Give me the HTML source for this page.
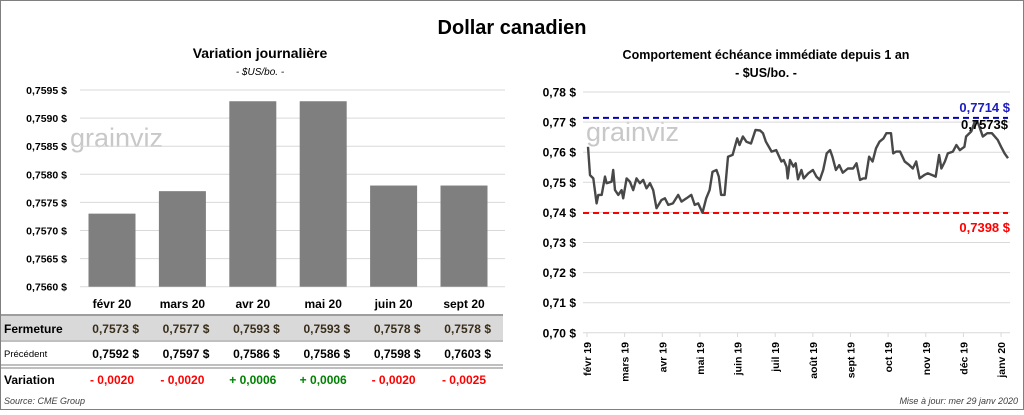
<!DOCTYPE html>
<html><head><meta charset="utf-8"><style>
body{margin:0;background:#fff}
svg text{font-family:"Liberation Sans",sans-serif}
</style></head><body>
<svg id="c" width="1024" height="410" xmlns="http://www.w3.org/2000/svg">
<rect x="0.5" y="0.5" width="1023" height="409" fill="#fff" stroke="#7f7f7f"/>
<text x="512" y="34" text-anchor="middle" font-size="20" font-weight="bold">Dollar canadien</text>
<text x="260" y="58" text-anchor="middle" font-size="14" font-weight="bold">Variation  journalière</text>
<text x="260" y="75" text-anchor="middle" font-size="10" font-style="italic">- $US/bo. -</text>
<text x="766" y="59" text-anchor="middle" font-size="12.5" font-weight="bold">Comportement échéance immédiate depuis 1 an</text>
<text x="766" y="77" text-anchor="middle" font-size="12.5" font-weight="bold">- $US/bo. -</text>
<text x="70" y="147" font-size="27" fill="#c8c8c8">grainviz</text>
<text x="586" y="141" font-size="27" fill="#c8c8c8">grainviz</text>
<g id="left"></g><g id="right"></g>
<text x="4" y="404" font-size="9" font-style="italic" fill="#404040">Source: CME Group</text>
<text x="1018" y="404" text-anchor="end" font-size="9" font-style="italic" fill="#404040">Mise à jour: mer 29 janv 2020</text>
</svg>
<script>
const barCats=["févr 20","mars 20","avr 20","mai 20","juin 20","sept 20"];
const closeVals=[0.7573,0.7577,0.7593,0.7593,0.7578,0.7578];
const prevVals=[0.7592,0.7597,0.7586,0.7586,0.7598,0.7603];
const varVals=[-0.0020,-0.0020,0.0006,0.0006,-0.0020,-0.0025];
const leftTicks=[0.7560,0.7565,0.7570,0.7575,0.7580,0.7585,0.7590,0.7595];

const lineDays=[0,1.7,4.6,7.5,9,11.9,14.8,16.2,20.6,22,23.5,26.4,29.3,30.7,33.6,36.5,39.4,42.3,45.2,48.1,51,54,56.8,59.7,64,67,70,74,78.6,81.5,85.8,90,93,96,99.8,103,106,108.5,112,114,116,119,122,126,130,132,135,138,142,146,150,152.5,155,160,164,168.5,170.5,173,174,176,179,181,183,186,188,192,196,199,202,205,208,211,213,216,219,222,226.5,231,234,237,240,242,245,248,251,254,257.5,260,264,266,268.5,272,276,280,283,286,289,293,296,300,303,306,308,311,313.5,318,321,324,328,329.5,334,337,340,344,348,352,357,360,363,366];
const lineVals=[0.7618,0.7524,0.7513,0.7430,0.7458,0.7458,0.7519,0.7497,0.7502,0.7541,0.7474,0.7458,0.7474,0.7447,0.7513,0.7502,0.7474,0.7513,0.7497,0.7508,0.7480,0.7497,0.7474,0.7414,0.7441,0.7447,0.7425,0.7430,0.7458,0.7436,0.7447,0.7458,0.7425,0.7430,0.7399,0.7447,0.7474,0.7535,0.7541,0.7519,0.7458,0.7458,0.7585,0.7591,0.7646,0.7624,0.7652,0.7635,0.7629,0.7674,0.7672,0.7663,0.7635,0.7602,0.7607,0.7569,0.7574,0.7552,0.7513,0.7574,0.7552,0.7563,0.7510,0.7541,0.7513,0.7530,0.7541,0.7519,0.7508,0.7541,0.7596,0.7607,0.7585,0.7541,0.7557,0.7532,0.7546,0.7546,0.7563,0.7508,0.7513,0.7513,0.7585,0.7569,0.7613,0.7635,0.7646,0.7663,0.7663,0.7596,0.7602,0.7602,0.7569,0.7557,0.7546,0.7569,0.7513,0.7524,0.7530,0.7524,0.7519,0.7591,0.7546,0.7569,0.7596,0.7602,0.7624,0.7607,0.7618,0.7652,0.7669,0.7701,0.7696,0.7652,0.7663,0.7663,0.7641,0.7618,0.7596,0.7580];
const monthLabels=["févr 19","mars 19","avr 19","mai 19","juin 19","juil 19","août 19","sept 19","oct 19","nov 19","déc 19","janv 20"];
const rightTicks=[0.70,0.71,0.72,0.73,0.74,0.75,0.76,0.77,0.78];
const maxVal=[0.7714], minVal=[0.7398], lastVal=[0.7573];

const NS="http://www.w3.org/2000/svg";
function mk(p,tag,at,txt){const e=document.createElementNS(NS,tag);for(const k in at)e.setAttribute(k,at[k]);if(txt!==undefined)e.textContent=txt;p.appendChild(e);return e;}
const fmt=(v,d)=>v.toFixed(d).replace('.',',');

// left chart
const L=document.getElementById('left');
const ly=v=>90+(0.7595-v)/0.0005*28.1;
const bx=i=>112+i*70.4;
leftTicks.forEach(t=>{
 const g=mk(L,'line',{x1:80,x2:505,y1:ly(t),y2:ly(t),stroke:'#d9d9d9','stroke-width':1});
 
 
 const tx=mk(L,'text',{x:67,y:ly(t)+4,'text-anchor':'end','font-size':10.5,'font-weight':'bold'},fmt(t,4)+' $');
 
 
});
closeVals.forEach((v,i)=>{
 const r=mk(L,'rect',{x:bx(i)-23.5,y:ly(v),width:47,height:ly(0.7560)-ly(v),fill:'#7f7f7f'});
 
 
});
// table
mk(L,'rect',{x:1,y:316,width:502,height:24,fill:'#d9d9d9'});
[[1,315,'#7f7f7f',1.5],[1,341,'#7f7f7f',1],[1,365,'#7f7f7f',1],[1,368,'#7f7f7f',1]].forEach(a=>mk(L,'line',{x1:a[0],x2:503,y1:a[1],y2:a[1],stroke:a[2],'stroke-width':a[3]}));
const rl=[['Fermeture',333,12,'bold'],['Précédent',357,9.5,'normal'],['Variation',384,12,'bold']];
rl.forEach(r=>{const t=mk(L,'text',{x:4,y:r[1],'font-size':r[2],'font-weight':r[3]},r[0]);
 
 });
barCats.forEach((c,i)=>{
 const x=bx(i);
 const h=mk(L,'text',{x:x,y:308,'text-anchor':'middle','font-size':12,'font-weight':'bold'},c);
 
 
 const a=mk(L,'text',{x:x+27,y:333,'text-anchor':'end','font-size':12,'font-weight':'bold',fill:'#3a2e1a','xml:space':'preserve'},fmt(closeVals[i],4)+'  $');
 
 
 const b=mk(L,'text',{x:x+27,y:358,'text-anchor':'end','font-size':12,'font-weight':'bold','xml:space':'preserve'},fmt(prevVals[i],4)+'  $');
 
 
 const v=varVals[i];
 const d=mk(L,'text',{x:x,y:384,'text-anchor':'middle','font-size':12,'font-weight':'bold',fill:v<0?'#ff0000':'#008000'},(v<0?'- ':'+ ')+fmt(Math.abs(v),4));
 
 
});

// right chart
const R=document.getElementById('right');
const ry=v=>92+(0.78-v)*3010;
const rx=d=>588+d*(420/366);
rightTicks.forEach(t=>{
 const g=mk(R,'line',{x1:583,x2:1010,y1:ry(t),y2:ry(t),stroke:'#d9d9d9','stroke-width':1});
 
 
 const tx=mk(R,'text',{x:576,y:ry(t)+4.5,'text-anchor':'end','font-size':12,'font-weight':'bold'},fmt(t,2)+' $');
 
 
});
monthLabels.forEach((m,i)=>{
 const x=587+i*37.64;
 mk(R,'line',{x1:x,x2:x,y1:333,y2:337,stroke:'#d9d9d9'});
 const t=mk(R,'text',{x:0,y:0,transform:`translate(${x+4},342) rotate(-90)`,'text-anchor':'end','font-size':10.5,'font-weight':'bold'},m);
 
 
});
const mx=mk(R,'line',{x1:583,x2:1008,y1:ry(maxVal[0]),y2:ry(maxVal[0]),stroke:'#0000c0','stroke-width':2,'stroke-dasharray':'6,4'});


const mn=mk(R,'line',{x1:583,x2:1008,y1:ry(minVal[0]),y2:ry(minVal[0]),stroke:'#ff0000','stroke-width':2,'stroke-dasharray':'6,4'});


const pts=lineDays.map((d,i)=>rx(d).toFixed(1)+','+ry(lineVals[i]).toFixed(1)).join(' ');
const pl=mk(R,'polyline',{points:pts,fill:'none',stroke:'#484848','stroke-width':2.4,'stroke-linejoin':'round'});


const t1=mk(R,'text',{x:1010,y:ry(maxVal[0])-6,'text-anchor':'end','font-size':13,'font-weight':'bold',fill:'#1c1cc0','xml:space':'preserve'},fmt(maxVal[0],4)+'  $');


const t2=mk(R,'text',{x:1008,y:ry(maxVal[0])+11,'text-anchor':'end','font-size':13,'font-weight':'bold'},fmt(lastVal[0],4)+'$');


const t3=mk(R,'text',{x:1010,y:ry(minVal[0])+19,'text-anchor':'end','font-size':13,'font-weight':'bold',fill:'#ff0000','xml:space':'preserve'},fmt(minVal[0],4)+'  $');


</script>
</body></html>
